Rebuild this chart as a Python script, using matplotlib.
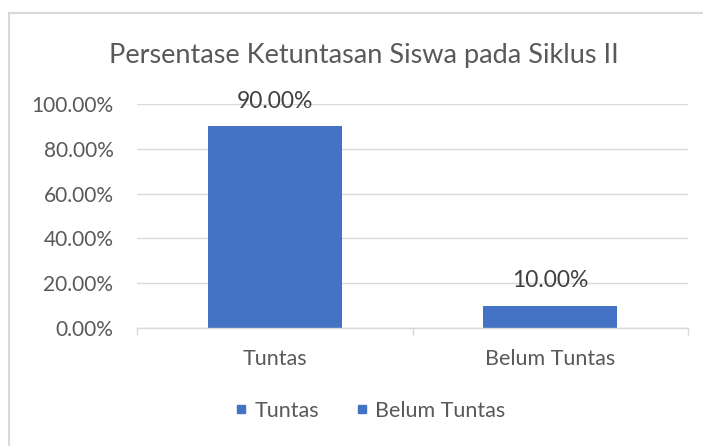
import matplotlib
matplotlib.use("Agg")
import matplotlib.pyplot as plt
from matplotlib.lines import Line2D

categories = ["Tuntas", "Belum Tuntas"]
values = [0.90, 0.10]
value_labels = ["90.00%", "10.00%"]
yticks = [0.0, 0.2, 0.4, 0.6, 0.8, 1.0]
ytick_labels = ["0.00%", "20.00%", "40.00%", "60.00%", "80.00%", "100.00%"]
title = "Persentase Ketuntasan Siswa pada Siklus II"

plt.rcParams['font.family'] = ['Lato', 'DejaVu Sans']
bar_color = "#4472C4"
text_color = "#595959"
grid_color = "#D9D9D9"

fig = plt.figure(figsize=(7.03, 4.46), dpi=100)
ax = fig.add_axes([137/703, 1-328/446, (688-137)/703, (328-104)/446])

x = list(range(len(categories)))
ax.bar(x, values, width=0.486, color=bar_color, zorder=3)
ax.set_xlim(-0.5, len(categories)-0.5)
ax.set_ylim(0, 1.0)
ax.set_yticks(yticks)
ax.set_yticklabels(ytick_labels)
ax.set_xticks(x)
ax.set_xticklabels(categories)
ax.set_xticks([-0.5, 0.5, 1.5], minor=True)
ax.tick_params(axis='x', which='major', length=0, pad=15, labelsize=15.5, labelcolor=text_color)
ax.tick_params(axis='x', which='minor', length=5, width=1, color=grid_color)
ax.tick_params(axis='y', length=0, pad=17, labelsize=15, labelcolor=text_color)
ax.yaxis.grid(True, color=grid_color, linewidth=1, zorder=0)
for s in ['top', 'right', 'left']:
    ax.spines[s].set_visible(False)
ax.spines['bottom'].set_color(grid_color)
ax.spines['bottom'].set_linewidth(1)
ax.spines['bottom'].set_zorder(4)

for xi, v, lab in zip(x, values, value_labels):
    ax.annotate(lab, (xi, v), xytext=(0, 18), textcoords='offset points',
                ha='center', va='center', fontsize=16.5, color="#404040", zorder=5)

fig.text(364/703, 1-55/446, title, ha='center', va='center', fontsize=19.5, color=text_color)

handles = [Line2D([0], [0], marker='s', linestyle='none', markersize=6,
                  markerfacecolor=bar_color, markeredgecolor=bar_color) for _ in categories]
fig.legend(handles, categories, loc='center', bbox_to_anchor=(368/703, 1-411/446), ncol=2,
           frameon=False, fontsize=15.5, labelcolor=text_color, handletextpad=0.1,
           columnspacing=1.5, handlelength=1.0)

# chart border
fig.add_artist(Line2D([9/703, 9/703], [0, 1-13/446], transform=fig.transFigure, color=grid_color, linewidth=1.5))
fig.add_artist(Line2D([9/703, 1], [1-13/446, 1-13/446], transform=fig.transFigure, color=grid_color, linewidth=1.5))

fig.savefig("out.png", dpi=100, facecolor="white")
